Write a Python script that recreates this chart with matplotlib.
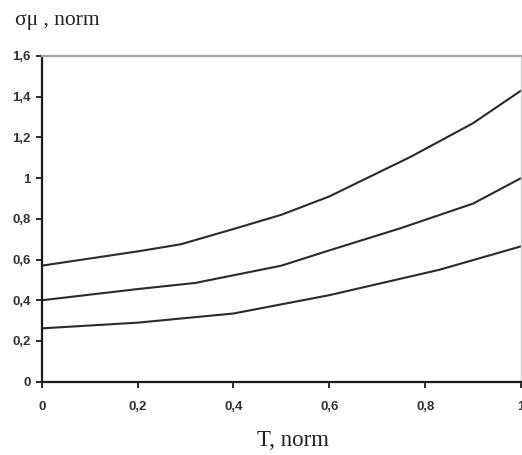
import numpy as np
import matplotlib
matplotlib.use("Agg")
import matplotlib.pyplot as plt
from matplotlib.ticker import FuncFormatter

# curves (T, norm -> sigma-mu, norm)
t_top = [0.0, 0.2, 0.29, 0.4, 0.5, 0.6, 0.77, 0.9, 1.0]
s_top = [0.57, 0.64, 0.675, 0.75, 0.82, 0.91, 1.105, 1.27, 1.43]

t_mid = [0.0, 0.2, 0.32, 0.5, 0.6, 0.75, 0.9, 1.0]
s_mid = [0.40, 0.455, 0.485, 0.57, 0.645, 0.755, 0.875, 1.0]

t_low = [0.0, 0.2, 0.4, 0.5, 0.6, 0.83, 1.0]
s_low = [0.262, 0.29, 0.335, 0.38, 0.425, 0.55, 0.665]

x_ticks = [0, 0.2, 0.4, 0.6, 0.8, 1.0]
y_ticks = [0, 0.2, 0.4, 0.6, 0.8, 1.0, 1.2, 1.4, 1.6]


def comma_fmt(v, pos):
    # decimal comma, no trailing zeros
    s = ("%.1f" % v).rstrip("0").rstrip(".")
    return s.replace(".", ",")


W, H = 522, 455
fig = plt.figure(figsize=(W / 100, H / 100), dpi=100)
ax = fig.add_axes([41.7 / W, 1 - 381.7 / H, (521 - 41.7) / W, (381.7 - 56) / H])

for t, s in [(t_top, s_top), (t_mid, s_mid), (t_low, s_low)]:
    ax.plot(t, s, color="#2b2b2b", lw=1.5, solid_joinstyle="round")

ax.set_xlim(0, 1)
ax.set_ylim(0, 1.6)
ax.set_xticks(x_ticks)
ax.set_yticks(y_ticks)
ax.xaxis.set_major_formatter(FuncFormatter(comma_fmt))
ax.yaxis.set_major_formatter(FuncFormatter(comma_fmt))

for side in ["left", "bottom"]:
    ax.spines[side].set_color("#1a1a1a")
    ax.spines[side].set_linewidth(1.6)
ax.spines["top"].set_color("#a8a8a8")
ax.spines["top"].set_linewidth(1.6)
ax.spines["right"].set_color("#d0d0d0")
ax.spines["right"].set_linewidth(1.0)

ax.tick_params(direction="out", length=4, width=1.3, color="#1a1a1a",
               labelsize=9.5, labelcolor="#333333")
ax.tick_params(axis="y", pad=4)
ax.tick_params(axis="x", pad=10)
for lab in ax.get_xticklabels() + ax.get_yticklabels():
    lab.set_fontweight("bold")
    lab.set_family("Liberation Sans")

fig.text(15 / W, 1 - 21 / H, "σμ , norm", family="Liberation Serif",
         fontsize=15.5, ha="left", va="center", color="#222222")
fig.text(293 / W, 1 - 440 / H, "T, norm", family="Liberation Serif",
         fontsize=16.5, ha="center", va="center", color="#222222")

fig.savefig("out.png", dpi=100)
